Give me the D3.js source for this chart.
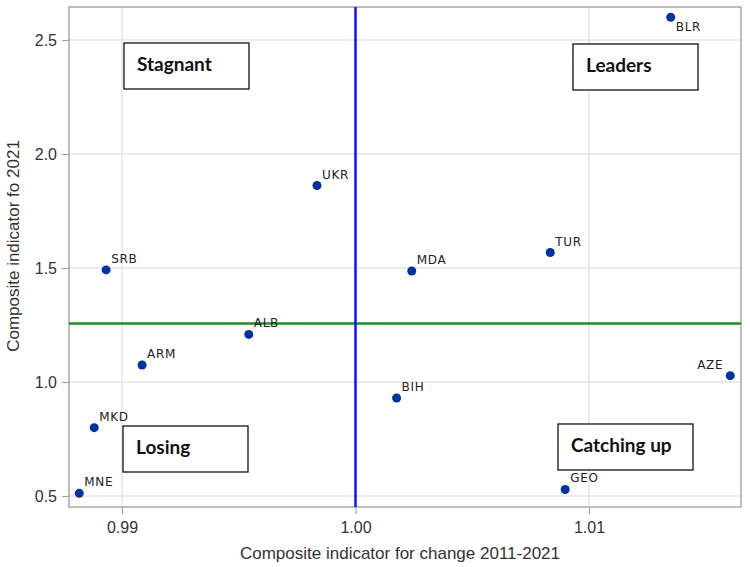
<!DOCTYPE html>
<html>
<head>
<meta charset="utf-8">
<script src="https://cdn.jsdelivr.net/npm/d3@7"></script>
<style>
  html, body { margin: 0; padding: 0; background: #fff; }
  svg { display: block; }
</style>
</head>
<body>
<svg id="chart" width="750" height="567"></svg>
<script>
// ---- data ----
const countries = ["BLR", "UKR", "SRB", "MDA", "TUR", "ALB", "ARM", "AZE", "BIH", "MKD", "MNE", "GEO"];
const changeValues = [1.0135, 0.99835, 0.98932, 1.00241, 1.00834, 0.99543, 0.99086, 1.01605, 1.00176, 0.98881, 0.98817, 1.00898];
const levelValues = [2.600, 1.862, 1.492, 1.487, 1.568, 1.209, 1.075, 1.028, 0.930, 0.800, 0.512, 0.529];
const xTicks = [0.99, 1.00, 1.01];
const yTicks = [0.5, 1.0, 1.5, 2.0, 2.5];
const xReference = 1.00;
const yReference = 1.257;
const quadrantNames = ["Stagnant", "Leaders", "Losing", "Catching up"];
const xTitle = "Composite indicator for change 2011-2021";
const yTitle = "Composite indicator fo 2021";

// ---- layout ----
const W = 750, H = 567;
const margin = { left: 69, top: 7, right: 9, bottom: 60 };
const iw = W - margin.left - margin.right;
const ih = H - margin.top - margin.bottom;

const svg = d3.select("#chart");
const g = svg.append("g").attr("transform", `translate(${margin.left},${margin.top})`);

const x = d3.scaleLinear().domain([0.98773, 1.01651]).range([0, iw]);
const y = d3.scaleLinear().domain([0.452, 2.645]).range([ih, 0]);

// gridlines
g.append("g").selectAll("line").data(xTicks).join("line")
  .attr("x1", d => x(d)).attr("x2", d => x(d)).attr("y1", 0).attr("y2", ih)
  .attr("stroke", "#e4e4e4").attr("stroke-width", 1.5);
g.append("g").selectAll("line").data(yTicks).join("line")
  .attr("y1", d => y(d)).attr("y2", d => y(d)).attr("x1", 0).attr("x2", iw)
  .attr("stroke", "#e4e4e4").attr("stroke-width", 1.5);

// axes
const fontAxis = "'Liberation Sans', Arial, sans-serif";
const xAxis = g.append("g").attr("transform", `translate(0,${ih})`)
  .call(d3.axisBottom(x).tickValues(xTicks).tickFormat(d3.format(".2f")).tickSize(7).tickPadding(5));
const yAxis = g.append("g")
  .call(d3.axisLeft(y).tickValues(yTicks).tickFormat(d3.format(".1f")).tickSize(7).tickPadding(5));
[xAxis, yAxis].forEach(a => {
  a.select(".domain").remove();
  a.selectAll(".tick line").attr("stroke", "#9a9a9a");
  a.selectAll(".tick text").attr("font-family", fontAxis).attr("font-size", 16).attr("fill", "#333");
});
xAxis.selectAll(".tick text").attr("dy", "0.9em");

// frame
g.append("rect").attr("x", 0).attr("y", 0).attr("width", iw).attr("height", ih)
  .attr("fill", "none").attr("stroke", "#a8a8a8").attr("stroke-width", 1.5);

// reference lines
g.append("line").attr("x1", 0).attr("x2", iw).attr("y1", y(yReference)).attr("y2", y(yReference))
  .attr("stroke", "#1e8c1e").attr("stroke-width", 2.5);
g.append("line").attr("x1", x(xReference)).attr("x2", x(xReference)).attr("y1", 0).attr("y2", ih)
  .attr("stroke", "#0a14ff").attr("stroke-width", 2.5);

// quadrant boxes (pixel boxes relative to plot area)
const boxes = [
  { name: quadrantNames[0], x0: 55, y0: 36, w: 125, h: 46 },
  { name: quadrantNames[1], x0: 504, y0: 37, w: 125, h: 46 },
  { name: quadrantNames[2], x0: 54, y0: 419, w: 125, h: 46 },
  { name: quadrantNames[3], x0: 489, y0: 417, w: 135, h: 46 }
];
const bg = g.append("g").selectAll("g").data(boxes).join("g")
  .attr("transform", d => `translate(${d.x0},${d.y0})`);
bg.append("rect").attr("width", d => d.w).attr("height", d => d.h)
  .attr("fill", "#fff").attr("stroke", "#111").attr("stroke-width", 1.3);
bg.append("text").attr("x", 13).attr("y", 28)
  .attr("font-family", "Lato, 'Open Sans', sans-serif").attr("font-weight", 700)
  .attr("font-size", 19).attr("fill", "#111").text(d => d.name);

// points
const pts = countries.map((c, i) => ({ c, xv: changeValues[i], yv: levelValues[i] }));
g.append("g").selectAll("circle").data(pts).join("circle")
  .attr("cx", d => x(d.xv)).attr("cy", d => y(d.yv)).attr("r", 4.5)
  .attr("fill", "#0033a0");

g.append("g").selectAll("text").data(pts).join("text")
  .attr("x", d => x(d.xv) + (d.c === "AZE" ? -7 : 5))
  .attr("y", d => y(d.yv) + (d.c === "BLR" ? 14 : -7))
  .attr("text-anchor", d => d.c === "AZE" ? "end" : "start")
  .attr("font-family", "'DejaVu Sans', sans-serif").attr("font-size", 12)
  .attr("letter-spacing", 0.7).attr("fill", "#222")
  .text(d => d.c);

// axis titles
svg.append("text").attr("x", margin.left + iw / 2 - 5).attr("y", 559)
  .attr("text-anchor", "middle").attr("font-family", fontAxis).attr("font-size", 17)
  .attr("fill", "#333").text(xTitle);
svg.append("text").attr("transform", `translate(19,${246}) rotate(-90)`)
  .attr("text-anchor", "middle").attr("font-family", fontAxis).attr("font-size", 17)
  .attr("fill", "#333").text(yTitle);
</script>
</body>
</html>
